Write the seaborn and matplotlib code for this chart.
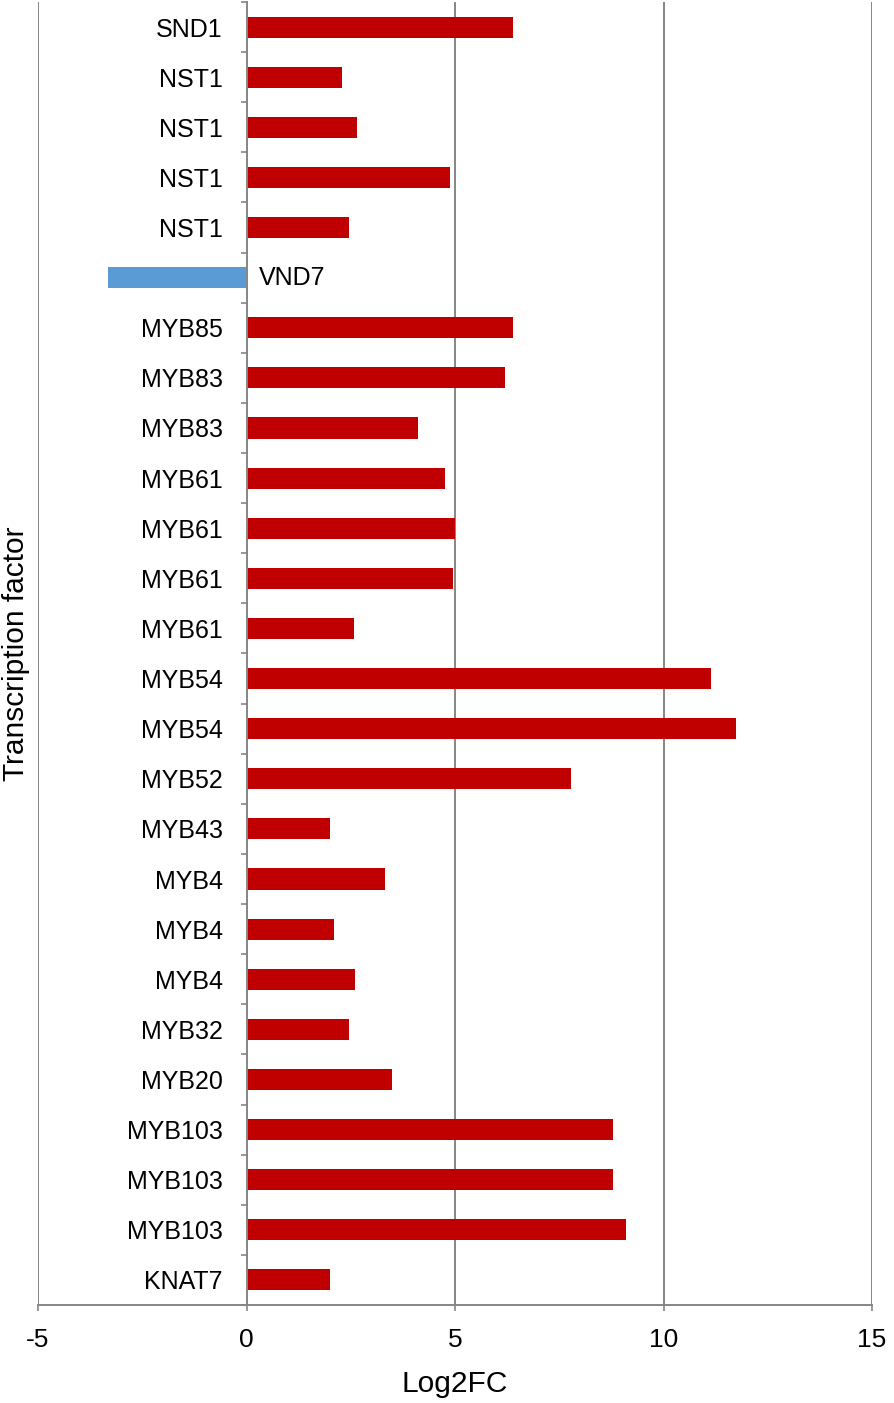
import numpy as np
import pandas as pd
import matplotlib
matplotlib.use('Agg')
import matplotlib.pyplot as plt
import seaborn as sns

# ---- data ----
genes = ['SND1', 'NST1', 'NST1', 'NST1', 'NST1', 'VND7', 'MYB85', 'MYB83', 'MYB83',
         'MYB61', 'MYB61', 'MYB61', 'MYB61', 'MYB54', 'MYB54', 'MYB52', 'MYB43',
         'MYB4', 'MYB4', 'MYB4', 'MYB32', 'MYB20', 'MYB103', 'MYB103', 'MYB103', 'KNAT7']
log2fc = [6.38, 2.30, 2.66, 4.87, 2.45, -3.31, 6.38, 6.19, 4.12,
          4.77, 4.99, 4.96, 2.57, 11.13, 11.73, 7.79, 2.01,
          3.31, 2.11, 2.61, 2.45, 3.48, 8.80, 8.80, 9.11, 2.01]
x_ticks = [-5, 0, 5, 10, 15]

row_ids = [f"r{i:02d}" for i in range(len(genes))]
df = pd.DataFrame({'row': row_ids, 'gene': genes, 'log2fc': log2fc})
df['direction'] = np.where(df['log2fc'] < 0, 'down', 'up')

GRID = '#868686'
FONT = ['Liberation Sans', 'DejaVu Sans']

sns.set_theme(style='white')
plt.rcParams['font.family'] = FONT

fig = plt.figure(figsize=(8.94, 14.03), dpi=100)
ax = fig.add_axes([38 / 894, 98 / 1403, 834 / 894, 1303 / 1403])

sns.barplot(data=df, x='log2fc', y='row', hue='direction', order=row_ids,
            palette={'up': '#C00000', 'down': '#5B9BD5'}, orient='h', saturation=1,
            dodge=False, width=0.42, linewidth=0, legend=False, ax=ax)

ax.set_xlim(-5, 15)
ax.set_ylim(len(genes) - 0.5, -0.5)
ax.set_xticks(x_ticks)
ax.set_xticklabels([str(t) for t in x_ticks])

# vertical gridlines
ax.grid(False)
for t in [-5, 5, 10, 15]:
    ax.axvline(t, color=GRID, lw=1.4, zorder=0)

# y axis sits on x = 0, Excel style
for s in ['top', 'right']:
    ax.spines[s].set_visible(False)
ax.spines['left'].set_position(('data', 0))
ax.spines['left'].set_color(GRID)
ax.spines['left'].set_linewidth(1.4)
ax.spines['bottom'].set_color(GRID)
ax.spines['bottom'].set_linewidth(1.4)
ax.spines['left'].set_zorder(3)

labels = [g if v >= 0 else '' for g, v in zip(genes, log2fc)]
ax.set_yticks(range(len(genes)))
ax.set_yticklabels(labels)
ax.set_yticks(np.arange(-0.5, len(genes), 1.0), minor=True)
ax.tick_params(axis='y', which='major', length=0, pad=17, labelsize=18, labelcolor='black')
ax.tick_params(axis='y', which='minor', left=True, length=4.5, width=1.2, color=GRID, direction='out')
ax.tick_params(axis='x', which='major', bottom=True, length=4.5, width=1.2, color=GRID,
               direction='out', pad=12, labelsize=19, labelcolor='black')

for i, (g, v) in enumerate(zip(genes, log2fc)):
    if v < 0:
        ax.annotate(g, xy=(0, i), xytext=(12, 0), textcoords='offset pixels',
                    ha='left', va='center', fontsize=18, color='black')

ax.set_xlabel('Log2FC', fontsize=21.5, labelpad=13, color='black')
ax.set_ylabel('Transcription factor', fontsize=21.5, color='black')
ax.yaxis.set_label_coords(-0.009, 0.5)

fig.savefig('out.png', dpi=100)
